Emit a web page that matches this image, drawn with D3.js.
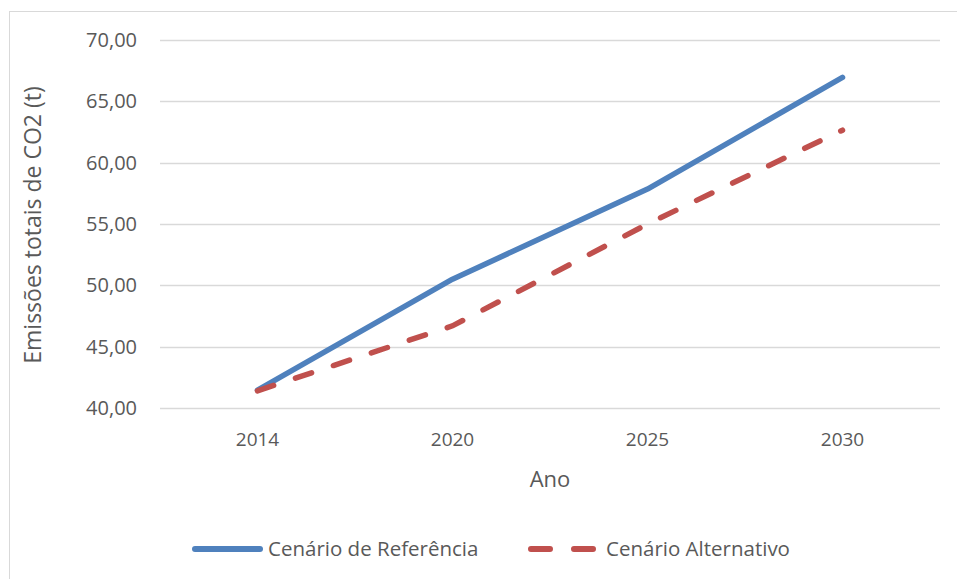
<!DOCTYPE html>
<html>
<head>
<meta charset="utf-8">
<script src="https://cdn.jsdelivr.net/npm/d3@7"></script>
<style>
body { margin: 0; background: #fff; }
text { font-family: "Open Sans", "Noto Sans", sans-serif; fill: #595959; }
</style>
</head>
<body>
<script>
var anos = ["2014", "2020", "2025", "2030"];
var referencia = [41.45, 50.5, 57.85, 66.95];
var alternativo = [41.4, 46.7, 55.0, 62.65];
var yTicks = [40, 45, 50, 55, 60, 65, 70];

var w = 957;
var h = 579;
var plotLeft = 160, plotRight = 940, plotTop = 40, plotBottom = 408;

var svg = d3.select("body")
  .append("svg")
  .attr("width", w)
  .attr("height", h);

// moldura do gráfico
svg.append("rect")
  .attr("x", 9.5).attr("y", 11.5)
  .attr("width", 960).attr("height", 600)
  .attr("fill", "none")
  .attr("stroke", "#d9d9d9");

var x = d3.scaleBand().domain(anos).range([plotLeft, plotRight]);
var y = d3.scaleLinear().domain([40, 70]).range([plotBottom, plotTop]);

svg.selectAll(".grid")
  .data(yTicks)
  .enter()
  .append("line")
  .attr("x1", plotLeft).attr("x2", plotRight)
  .attr("y1", function(d) { return Math.round(y(d)) + 0.5; })
  .attr("y2", function(d) { return Math.round(y(d)) + 0.5; })
  .attr("stroke", "#d9d9d9")
  .attr("stroke-width", 1.3);

svg.selectAll(".ytick")
  .data(yTicks)
  .enter()
  .append("text")
  .attr("x", 137)
  .attr("y", function(d) { return y(d) + 7; })
  .attr("text-anchor", "end")
  .style("font-size", "20px")
  .text(function(d) { return d.toFixed(2).replace(".", ","); });

svg.selectAll(".xtick")
  .data(anos)
  .enter()
  .append("text")
  .attr("x", function(d) { return x(d) + x.bandwidth() / 2; })
  .attr("y", plotBottom + 38)
  .attr("text-anchor", "middle")
  .style("font-size", "19px")
  .text(function(d) { return d; });

svg.append("text")
  .attr("transform", "translate(41,225) rotate(-90)")
  .attr("text-anchor", "middle")
  .style("font-size", "23px")
  .text("Emissões totais de CO2 (t)");

svg.append("text")
  .attr("x", 550).attr("y", 487)
  .attr("text-anchor", "middle")
  .style("font-size", "22px")
  .text("Ano");

var line = d3.line()
  .x(function(d, i) { return x(anos[i]) + x.bandwidth() / 2; })
  .y(function(d) { return y(d); });

svg.append("path")
  .datum(referencia)
  .attr("d", line)
  .attr("fill", "none")
  .attr("stroke", "#4f81bd")
  .attr("stroke-width", 5.5)
  .attr("stroke-linecap", "round")
  .attr("stroke-linejoin", "round");

svg.append("path")
  .datum(alternativo)
  .attr("d", line)
  .attr("fill", "none")
  .attr("stroke", "#c0504d")
  .attr("stroke-width", 5.5)
  .attr("stroke-linecap", "round")
  .attr("stroke-dasharray", "17,23");

// legenda
svg.append("line")
  .attr("x1", 195).attr("x2", 260)
  .attr("y1", 549).attr("y2", 549)
  .attr("stroke", "#4f81bd")
  .attr("stroke-width", 6)
  .attr("stroke-linecap", "round");

svg.append("text")
  .attr("x", 268).attr("y", 556)
  .style("font-size", "20.5px")
  .text("Cenário de Referência");

svg.append("line")
  .attr("x1", 531).attr("x2", 593)
  .attr("y1", 549).attr("y2", 549)
  .attr("stroke", "#c0504d")
  .attr("stroke-width", 6)
  .attr("stroke-linecap", "round")
  .attr("stroke-dasharray", "19,24");

svg.append("text")
  .attr("x", 606).attr("y", 556)
  .style("font-size", "20.5px")
  .text("Cenário Alternativo");
</script>
</body>
</html>
